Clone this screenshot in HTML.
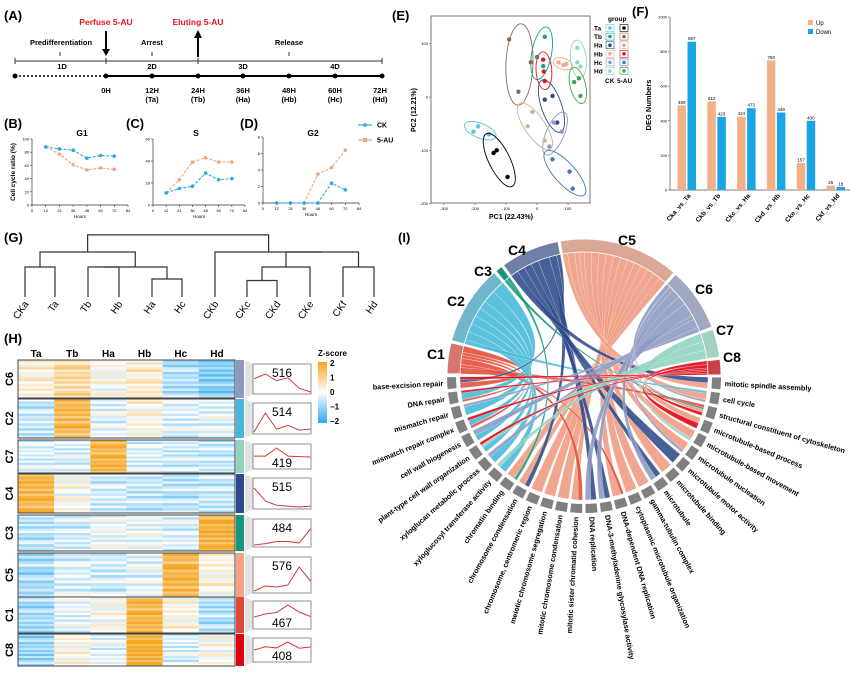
<!DOCTYPE html>
<html><head><meta charset="utf-8">
<style>
html,body{margin:0;padding:0;background:#fff;}
svg{display:block;font-family:"Liberation Sans",sans-serif;}
.b{font-weight:bold;}
</style></head>
<body>
<svg id="fig" width="863" height="688" viewBox="0 0 863 688" xmlns="http://www.w3.org/2000/svg">
<rect width="863" height="688" fill="#fff"/>
<!-- Panel A -->
<g id="panelA">
<text x="4" y="20" class="b" font-size="13">(A)</text>
<text x="106" y="25" class="b" font-size="8.5" fill="#e8141b" text-anchor="middle">Perfuse 5-AU</text>
<text x="198" y="25" class="b" font-size="8.5" fill="#e8141b" text-anchor="middle">Eluting 5-AU</text>
<line x1="106" y1="31" x2="106" y2="51" stroke="#000" stroke-width="2"/><polygon points="102,49 110,49 106,56" fill="#000"/>
<line x1="198" y1="37" x2="198" y2="57" stroke="#000" stroke-width="2"/><polygon points="194,38 202,38 198,30" fill="#000"/>
<text x="61" y="45" class="b" font-size="7.5" text-anchor="middle">Predifferentiation</text>
<text x="152" y="45" class="b" font-size="7.5" text-anchor="middle">Arrest</text>
<text x="289" y="45" class="b" font-size="7.5" text-anchor="middle">Release</text>
<g stroke="#333" stroke-width="1" fill="none">
<line x1="15" y1="61" x2="382" y2="61"/><line x1="15" y1="58" x2="15" y2="64"/><line x1="106" y1="58" x2="106" y2="64"/><line x1="198" y1="58" x2="198" y2="64"/><line x1="382" y1="58" x2="382" y2="64"/>
<line x1="60" y1="52" x2="60" y2="56"/><line x1="152" y1="52" x2="152" y2="56"/><line x1="289" y1="52" x2="289" y2="56"/>
</g>
<g class="b" font-size="7.5" text-anchor="middle">
<text x="62" y="69">1D</text><text x="152" y="69">2D</text><text x="243" y="69">3D</text><text x="335" y="69">4D</text>
</g>
<line x1="15" y1="76" x2="106" y2="76" stroke="#000" stroke-width="1.5" stroke-dasharray="2,2"/>
<line x1="106" y1="76" x2="382" y2="76" stroke="#000" stroke-width="2"/>
<g fill="#000"><circle cx="15" cy="76" r="2.5"/><circle cx="106" cy="76" r="2.5"/><circle cx="152" cy="76" r="2.5"/><circle cx="198" cy="76" r="2.5"/><circle cx="243" cy="76" r="2.5"/><circle cx="289" cy="76" r="2.5"/><circle cx="335" cy="76" r="2.5"/><circle cx="382" cy="76" r="2.5"/></g>
<g class="b" font-size="7.5" text-anchor="middle">
<text x="106" y="93">0H</text><text x="152" y="93">12H</text><text x="198" y="93">24H</text><text x="243" y="93">36H</text><text x="289" y="93">48H</text><text x="335" y="93">60H</text><text x="380" y="93">72H</text>
<text x="152" y="102">(Ta)</text><text x="198" y="102">(Tb)</text><text x="243" y="102">(Ha)</text><text x="289" y="102">(Hb)</text><text x="335" y="102">(Hc)</text><text x="380" y="102">(Hd)</text>
</g>
</g>
<g id="panelBCD"></g>
<g id="panelE"></g>
<g id="panelF"></g>
<g id="panelG"></g>
<g id="panelH"></g>
<g id="panelI"></g>
</svg>
<script>
// ---------- data ----------
const hours = [12,24,36,48,60,72];
const g1CK = [88,85,83,71,75,74];
const g1AU = [88,77,61,53,56,54];
const sCK = [11,15,17,29,23,24];
const sAU = [11,23,39,43,39,39];
const g2CK = [0,0,0,0,2.4,1.6];
const g2AU = [0,0,0,3.5,4.3,6.4];

const pcaGroups = ['Ta','Tb','Ha','Hb','Hc','Hd'];
const pcaCK = [[[-190,-55],[-205,-65],[-155,-70]],[[0,75],[25,113],[20,58]],[[25,-5],[50,2],[65,-48]],[[70,65],[95,62],[85,60]],[[55,-48],[80,-65],[40,-93]],[[130,92],[130,65],[140,57]]];
const pcaAU = [[[-140,-105],[-130,-100],[-95,-150]],[[-90,108],[-20,65],[-60,10]],[[-15,-28],[-30,-55],[25,-82]],[[20,70],[22,48],[25,30]],[[50,-117],[105,-140],[115,-172]],[[120,28],[135,35],[140,2]]];

const degCats = ['Cka_vs_Ta','Ckb_vs_Tb','Ckc_vs_Ha','Ckd_vs_Hb','Cke_vs_Hc','Ckf_vs_Hd'];
const degUp = [489,512,424,750,157,26];
const degDown = [857,423,473,448,400,18];
const degTicks = [0,200,400,600,800,1000];

const leaves = ['CKa','Ta','Tb','Hb','Ha','Hc','CKb','CKc','CKd','CKe','CKf','Hd'];
const merges = [[0,1,1.0],[4,5,0.6],[2,3,1.0],[14,13,1.0],[12,15,1.5],[7,8,0.55],[17,9,1.0],[10,11,1.0],[18,19,1.5],[6,20,1.5],[16,21,2.07]];

const hmCols = ['Ta','Tb','Ha','Hb','Hc','Hd'];
const clusters = ['C6','C2','C7','C4','C3','C5','C1','C8'];
const clusterCounts = [516,514,419,515,484,576,467,408];
const clusterMeans = [
 [0.3,0.8,0.1,0.4,-0.7,-1.1],
 [-0.5,1.5,-0.2,0.2,-0.3,-0.2],
 [-0.3,-0.3,1.6,-0.3,-0.4,-0.5],
 [1.6,0.1,-0.4,-0.5,-0.6,-0.5],
 [-0.6,-0.4,-0.1,-0.1,-0.3,1.7],
 [-0.8,-0.3,-0.4,-0.2,1.6,0.2],
 [-0.8,-0.2,0.1,1.6,0.2,-0.7],
 [-0.9,0.2,-0.2,1.8,-0.3,0.1]];
const stripeOffsets = [0.3,-0.4,0.1,0.5,-0.2,0.0,-0.5,0.2,0.4,-0.3,0.1,-0.1,0.3,-0.2,0.2,-0.4];

const chordClusters = ['C1','C2','C3','C4','C5','C6','C7','C8'];
const goTerms = ['base-excision repair','DNA repair','mismatch repair','mismatch repair complex','cell wall biogenesis','plant-type cell wall organization','xyloglucan metabolic process','xyloglucosyl transferase activity','chromatin binding','chromosome condensation','chromosome, centromeric region','meiotic chromosome segregation','mitotic chromosome condensation','mitotic sister chromatid cohesion','DNA replication','DNA-3-methyladenine glycosylase activity','DNA-dependent DNA replication','cytoplasmic microtubule organization','gamma-tubulin complex','microtubule','microtubule binding','microtubule motor activity','microtubule nucleation','microtubule-based movement','microtubule-based process','structural constituent of cytoskeleton','cell cycle','mitotic spindle assembly'];
const links = [[0,0,2],[0,1,1],[0,3,1],[0,13,2],[0,16,1],[0,25,2],
[1,1,3],[1,2,3],[1,3,2],[1,4,2],[1,5,2],[1,6,2],[1,7,2],[1,26,1],
[2,8,1],[2,25,1],
[3,0,1],[3,9,2],[3,14,3],[3,15,2],[3,19,2],[3,21,2],[3,27,2],
[4,8,3],[4,9,3],[4,10,3],[4,11,3],[4,12,3],[4,13,3],[4,16,3],[4,17,3],[4,18,3],[4,20,3],[4,22,3],[4,23,3],[4,24,2],[4,25,2],[4,26,3],[4,27,2],
[5,2,1],[5,4,2],[5,6,1],[5,14,3],[5,15,2],[5,19,2],[5,22,1],[5,26,1],
[6,5,1],[6,7,1],[6,23,1],
[7,0,1],[7,1,1],[7,3,1],[7,5,1],[7,24,2],[7,25,2]];

// ---------- helpers ----------
const NS='http://www.w3.org/2000/svg';
function mk(parent,tag,attrs,text){const e=document.createElementNS(NS,tag);for(const k in attrs)e.setAttribute(k,attrs[k]);if(text!==undefined)e.textContent=text;parent.appendChild(e);return e;}
const CKc='#29abe2', AUc='#f0a77f';

// ---------- B/C/D ----------
const bcd=document.getElementById('panelBCD');
const panels=[
 {lab:'(B)',title:'G1',ck:g1CK,au:g1AU,x0:32,x1:128,y0:205,y1:139,max:100,ticks:[0,20,40,60,80,100],lx:4,tx:82},
 {lab:'(C)',title:'S',ck:sCK,au:sAU,x0:153,x1:245,y0:205,y1:139,max:60,ticks:[0,20,40,60],lx:126,tx:196},
 {lab:'(D)',title:'G2',ck:g2CK,au:g2AU,x0:263,x1:359,y0:203,y1:137,max:8,ticks:[0,2,4,6,8],lx:240,tx:313}];
panels.forEach((p,pi)=>{
 const g=mk(bcd,'g',{});
 
 
 const xs=v=>p.x0+(v/84)*(p.x1-p.x0);
 const ys=v=>p.y0-(v/p.max)*(p.y0-p.y1);
 const lab=mk(g,'text',{x:p.lx,y:128,'class':'b','font-size':13},p.lab);
 
 
 const t=mk(g,'text',{x:p.tx,y:136,'class':'b','font-size':8.5,'text-anchor':'middle'},p.title);
 
 
 mk(g,'line',{x1:p.x0,y1:p.y0,x2:p.x1,y2:p.y0,stroke:'#333','stroke-width':0.7});
 mk(g,'line',{x1:p.x0,y1:p.y0,x2:p.x0,y2:p.y1,stroke:'#333','stroke-width':0.7});
 for(let h=0;h<=84;h+=12){mk(g,'line',{x1:xs(h),y1:p.y0,x2:xs(h),y2:p.y0+2,stroke:'#333','stroke-width':0.6});mk(g,'text',{x:xs(h),y:p.y0+7,'font-size':4,'text-anchor':'middle'},h);}
 p.ticks.forEach(v=>{mk(g,'line',{x1:p.x0-2,y1:ys(v),x2:p.x0,y2:ys(v),stroke:'#333','stroke-width':0.6});mk(g,'text',{x:p.x0-3,y:ys(v)+1.5,'font-size':4,'text-anchor':'end'},v);});
 mk(g,'text',{x:(p.x0+p.x1)/2,y:p.y0+13,'font-size':4.5,'text-anchor':'middle'},'Hours');
 [[p.au,AUc,'series-5au'],[p.ck,CKc,'series-ck']].forEach(s=>{
  const pts=hours.map((h,i)=>xs(h)+','+ys(s[0][i])).join(' ');
  const pl=mk(g,'polyline',{points:pts,fill:'none',stroke:s[1],'stroke-width':1.1,'stroke-dasharray':'3,1.5'});
  
  
  hours.forEach((h,i)=>{const c=mk(g,'circle',{cx:xs(h),cy:ys(s[0][i]),r:1.8,fill:s[1]});
   
   });
 });
});
mk(bcd,'text',{x:15,y:172,'font-size':6.5,'class':'b','text-anchor':'middle',transform:'rotate(-90 15 172)'},'Cell cycle ratio (%)');
const lg=mk(bcd,'g',{});


mk(lg,'line',{x1:358,y1:125,x2:372,y2:125,stroke:CKc,'stroke-width':1.2});mk(lg,'circle',{cx:365,cy:125,r:1.8,fill:CKc});
mk(lg,'text',{x:377,y:127.5,'font-size':7,'class':'b'},'CK');
mk(lg,'line',{x1:358,y1:140,x2:372,y2:140,stroke:AUc,'stroke-width':1.2});mk(lg,'rect',{x:363,y:138,width:4,height:4,fill:AUc});
mk(lg,'text',{x:377,y:142.5,'font-size':7,'class':'b'},'5-AU');

// ---------- E PCA ----------
const pe=document.getElementById('panelE');
const ckCols=['#5bc3e0','#15a088','#2e4a8a','#f2a882','#8c9ac0','#92d6c4'];
const auCols=['#000000','#8b6b52','#c9b4a0','#e4141e','#3f78c2','#3ca84a'];
const ex=v=>537+v*0.31, ey=v=>97-v*0.533;
mk(pe,'text',{x:392,y:20,'class':'b','font-size':13},'(E)');
const ebox=mk(pe,'rect',{x:431,y:16,width:159,height:187,fill:'none',stroke:'#555','stroke-width':0.8});


[-300,-200,-100,0,100].forEach(v=>{mk(pe,'line',{x1:ex(v),y1:203,x2:ex(v),y2:205,stroke:'#555','stroke-width':0.6});mk(pe,'text',{x:ex(v),y:210,'font-size':4,'text-anchor':'middle'},v);});
[-200,-100,0,100].forEach(v=>{mk(pe,'line',{x1:429,y1:ey(v),x2:431,y2:ey(v),stroke:'#555','stroke-width':0.6});mk(pe,'text',{x:428,y:ey(v)+1.5,'font-size':4,'text-anchor':'end'},v);});
mk(pe,'text',{x:511,y:219,'font-size':7,'class':'b','text-anchor':'middle'},'PC1 (22.43%)');
mk(pe,'text',{x:416,y:110,'font-size':7,'class':'b','text-anchor':'middle',transform:'rotate(-90 416 110)'},'PC2 (12.21%)');
function ellipse(pts,col){
 const px=pts.map(p=>ex(p[0])),py=pts.map(p=>ey(p[1]));
 const mx=px.reduce((a,b)=>a+b)/3,my=py.reduce((a,b)=>a+b)/3;
 let far=0,ang=0;pts.forEach((p,i)=>{const d=Math.hypot(px[i]-mx,py[i]-my);if(d>far){far=d;ang=Math.atan2(py[i]-my,px[i]-mx)*180/Math.PI;}});
 const e=mk(pe,'ellipse',{cx:mx,cy:my,rx:far*1.35+4,ry:far*0.35+4,fill:'none',stroke:col,'stroke-width':0.9,transform:`rotate(${ang} ${mx} ${my})`});
 
 
}
[[pcaCK,ckCols],[pcaAU,auCols]].forEach(set=>{
 set[0].forEach((grp,gi)=>{ellipse(grp,set[1][gi]);grp.forEach(p=>{const c=mk(pe,'circle',{cx:ex(p[0]),cy:ey(p[1]),r:2.2,fill:set[1][gi]});
  
  });});
});
mk(pe,'text',{x:608,y:21,'font-size':6.5,'class':'b'},'group');
pcaGroups.forEach((gname,i)=>{const y=28+i*8.6;
 mk(pe,'text',{x:594,y:y+2.5,'font-size':6.5,'class':'b'},gname);
 mk(pe,'rect',{x:606,y:y-3.5,width:8,height:7,fill:'#fff',stroke:ckCols[i],'stroke-width':0.6});mk(pe,'circle',{cx:610,cy:y,r:1.8,fill:ckCols[i]});
 mk(pe,'rect',{x:620,y:y-3.5,width:8,height:7,fill:'#fff',stroke:auCols[i],'stroke-width':0.6});mk(pe,'circle',{cx:624,cy:y,r:1.8,fill:auCols[i]});
});
mk(pe,'text',{x:605,y:83,'font-size':6.5,'class':'b'},'CK');
mk(pe,'text',{x:617,y:83,'font-size':6.5,'class':'b'},'5-AU');

// ---------- F bars ----------
const pf=document.getElementById('panelF');
const fy=v=>190-v*0.173, fx=i=>687+i*29.8;
mk(pf,'text',{x:632,y:16,'class':'b','font-size':13},'(F)');
mk(pf,'line',{x1:670,y1:17,x2:670,y2:190,stroke:'#555','stroke-width':0.7});
mk(pf,'line',{x1:670,y1:190,x2:850,y2:190,stroke:'#555','stroke-width':0.7});
degTicks.forEach(v=>{mk(pf,'line',{x1:668,y1:fy(v),x2:670,y2:fy(v),stroke:'#555','stroke-width':0.6});mk(pf,'text',{x:667,y:fy(v)+1.5,'font-size':4,'text-anchor':'end'},v);});
mk(pf,'text',{x:651,y:105,'font-size':7.5,'class':'b','text-anchor':'middle',transform:'rotate(-90 651 105)'},'DEG Numbers');
degCats.forEach((c,i)=>{
 const bu=mk(pf,'rect',{x:fx(i)-9.5,y:fy(degUp[i]),width:8.5,height:degUp[i]*0.173,fill:'#f3b188'});
 
 
 const bd=mk(pf,'rect',{x:fx(i)+0.5,y:fy(degDown[i]),width:8.5,height:degDown[i]*0.173,fill:'#1aa6e6'});
 
 
 mk(pf,'text',{x:fx(i)-5.2,y:fy(degUp[i])-1.5,'font-size':4.5,'text-anchor':'middle'},degUp[i]);
 mk(pf,'text',{x:fx(i)+4.7,y:fy(degDown[i])-1.5,'font-size':4.5,'text-anchor':'middle'},degDown[i]);
 mk(pf,'text',{x:fx(i)+4,y:196,'font-size':6.5,'class':'b','text-anchor':'end',transform:`rotate(-50 ${fx(i)+4} 196)`},c);
});
mk(pf,'rect',{x:808,y:20,width:5,height:5,fill:'#f3b188'});mk(pf,'text',{x:816,y:25,'font-size':6},'Up');
mk(pf,'rect',{x:808,y:29,width:5,height:5,fill:'#1aa6e6'});mk(pf,'text',{x:816,y:34,'font-size':6},'Down');

// ---------- G dendrogram ----------
const pg=document.getElementById('panelG');
mk(pg,'text',{x:4,y:242,'class':'b','font-size':13},'(G)');
const leafX=[25,55,88,119,152,182,215,247,277,310,343,374];
const gy=h=>297-30*h;
const nodes=leaves.map((l,i)=>({x:leafX[i],h:0}));
merges.forEach(m=>{
 const a=nodes[m[0]],b=nodes[m[1]];
 const p=mk(pg,'path',{d:`M${a.x},${gy(a.h)}V${gy(m[2])}H${b.x}V${gy(b.h)}`,fill:'none',stroke:'#333','stroke-width':1.2});
 
 
 nodes.push({x:(a.x+b.x)/2,h:m[2]});
});
leaves.forEach((l,i)=>{const t=mk(pg,'text',{x:leafX[i]+4,y:304,'font-size':10,'text-anchor':'end',transform:`rotate(-55 ${leafX[i]+4} 304)`},l);
 
 });

// ---------- H heatmap ----------
const ph=document.getElementById('panelH');
mk(ph,'text',{x:4,y:343,'class':'b','font-size':13},'(H)');
const hx0=18,hx1=235,cw=(hx1-hx0)/6;
hmCols.forEach((c,i)=>mk(ph,'text',{x:hx0+cw*(i+0.5),y:357,'font-size':10,'class':'b','text-anchor':'middle'},c));
const blocks=[[360,398],[399,438],[440,473],[474,513],[515,551],[553,597],[597,633],[634,666]];
const clCols=['#8c9ac0','#45b8d8','#8fd3c0','#2e4a8a','#13977a','#f2a38a','#e0493a','#e00010'];
function zcol(z){z=Math.max(-2,Math.min(2,z));
 if(z>=0){const t=z/2;return `rgb(${255-t*10|0},${255-t*89|0},${255-t*220|0})`;}
 const t=-z/2;return `rgb(${255-t*214|0},${255-t*87|0},${255-t*15|0})`;}
clusters.forEach((cl,ci)=>{
 const [y0,y1]=blocks[ci];const n=16;const sh=(y1-y0)/n;
 const g=mk(ph,'g',{});
 
 
 for(let c=0;c<6;c++)for(let r=0;r<n;r++){
  const z=clusterMeans[ci][c]+stripeOffsets[(r+c*5+ci*3)%stripeOffsets.length]*1.1;
  mk(g,'rect',{x:hx0+c*cw,y:y0+r*sh,width:cw+0.3,height:sh+0.3,fill:zcol(z)});
 }
 mk(g,'rect',{x:hx0,y:y0,width:hx1-hx0,height:y1-y0,fill:'none',stroke:'#444','stroke-width':1});
 mk(ph,'text',{x:13,y:(y0+y1)/2,'font-size':11,'class':'b','text-anchor':'middle',transform:`rotate(-90 13 ${(y0+y1)/2})`},cl);
 const cb=mk(ph,'rect',{x:236,y:y0,width:8,height:y1-y0,fill:clCols[ci]});
 
 
 mk(ph,'polygon',{points:`245,${y0} 253,${y0+4} 253,${y1-4} 245,${y1}`,fill:'#e3e3e3'});
 mk(ph,'rect',{x:253,y:y0+4,width:58,height:y1-y0-8,fill:'#fff',stroke:'#777','stroke-width':0.8});
 const m=clusterMeans[ci];const mn=Math.min(...m),mx=Math.max(...m);
 const top=['C7','C1','C8'].includes(cl);
 const ly0=top?y0+8:y0+14, ly1=top?y1-16:y1-6;
 const pts=m.map((v,i)=>(254+i*11.3)+','+(ly1-(v-mn)/(mx-mn)*(ly1-ly0))).join(' ');
 const pl=mk(ph,'polyline',{points:pts,fill:'none',stroke:'#d23a3a','stroke-width':1});
 
 
 mk(ph,'text',{x:282,y:top?y1-6:y0+17,'font-size':12,'text-anchor':'middle'},clusterCounts[ci]);
});
const grad=mk(ph,'defs',{});
const lgr=mk(grad,'linearGradient',{id:'zg',x1:0,y1:0,x2:0,y2:1});
mk(lgr,'stop',{offset:'0','stop-color':'#f5a623'});mk(lgr,'stop',{offset:'0.5','stop-color':'#ffffff'});mk(lgr,'stop',{offset:'1','stop-color':'#29a8f0'});
mk(ph,'text',{x:318,y:356,'font-size':8,'class':'b'},'Z-score');
const zb=mk(ph,'rect',{x:318,y:362,width:9,height:61,fill:'url(#zg)'});


[2,1,0,-1,-2].forEach((v,i)=>mk(ph,'text',{x:330,y:366+i*14.5,'font-size':8,'class':'b'},v===0?'0':(v<0?'\u2212'+(-v):v)));

// ---------- I chord ----------
const pi_=document.getElementById('panelI');
mk(pi_,'text',{x:398,y:242,'class':'b','font-size':13},'(I)');
const cx=584,cy=376,R=124;
const chordCols=['#e34b37','#45b8d8','#13977a','#2e4a8a','#ef9a80','#8c9ac0','#8fd3c0','#e00010'];
const ringCols=['#d8756c','#72b6cc','#13977a','#6f7fa5','#dba898','#a0a8c2','#a3d2c4','#cc4048'];
const clRange=[[181,194],[195,229],[230,233],[234,259],[260,311],[312,339],[340,352],[353,359.5]];
const rad=d=>d*Math.PI/180;
const P=(a,r)=>[cx+r*Math.cos(rad(a)),cy+r*Math.sin(rad(a))];
const termAng=i=>177-i*6.44;
// allocate
const clW=chordClusters.map((c,i)=>links.filter(l=>l[0]===i).reduce((s,l)=>s+l[2],0));
const tW=goTerms.map((t,i)=>links.filter(l=>l[1]===i).reduce((s,l)=>s+l[2],0));
const clPos=clRange.map(r=>r[0]), tPos=goTerms.map((t,i)=>termAng(i)-2.6);
const sorted=links.map((l,i)=>i).sort((a,b)=>links[b][1]-links[a][1]);
const ribbons=[];
sorted.forEach(k=>{const l=links[k];const [c,t,w]=l;
 const span=clRange[c][1]-clRange[c][0];const da=span*w/clW[c];
 const a1=clPos[c],a2=a1+da;clPos[c]=a2;ribbons[k]={a1,a2};});
links.forEach((l,k)=>{const [c,t,w]=l;const db=5.2*w/tW[t];const b1=tPos[t],b2=b1+db;tPos[t]=b2;ribbons[k].b1=b1;ribbons[k].b2=b2;});
const order=links.map((l,i)=>i).sort((a,b)=>(links[a][0]===4?0:1)-(links[b][0]===4?0:1));
order.forEach(k=>{const r=ribbons[k];const c=links[k][0];
 const A1=P(r.a1,R),A2=P(r.a2,R),B1=P(r.b1,R),B2=P(r.b2,R);
 const d=`M${A1}A${R},${R} 0 0 1 ${A2}Q${cx},${cy} ${B1}A${R},${R} 0 0 1 ${B2}Q${cx},${cy} ${A1}Z`;
 const p=mk(pi_,'path',{d:d,fill:chordCols[c],'fill-opacity':0.88,stroke:'#fff','stroke-width':0.4,'stroke-opacity':0.6});
 
 
});
function arcBand(a1,a2,r1,r2){const p1=P(a1,r2),p2=P(a2,r2),p3=P(a2,r1),p4=P(a1,r1);const lg=(a2-a1)>180?1:0;
 return `M${p1}A${r2},${r2} 0 ${lg} 1 ${p2}L${p3}A${r1},${r1} 0 ${lg} 0 ${p4}Z`;}
clRange.forEach((r,i)=>{
 const a=mk(pi_,'path',{d:arcBand(r[0],r[1],R,137),fill:ringCols[i],stroke:'#fff','stroke-width':0.8});
 
 
});
const clLabPos=[[436,359],[456,306],[483,276],[517,255],[627,245],[704,294],[725,335],[732,362]];
chordClusters.forEach((c,i)=>mk(pi_,'text',{x:clLabPos[i][0],y:clLabPos[i][1],'font-size':14,'class':'b','text-anchor':'middle'},c));
goTerms.forEach((t,i)=>{const a=termAng(i);
 const b=mk(pi_,'path',{d:arcBand(a-2.5,a+2.5,128,137),fill:'#808080'});
 
 
 const [x,y]=P(a,141);
 let rot,anchor;
 if(a>90){rot=a-180;anchor='end';}else{rot=a;anchor='start';}
 const tx=mk(pi_,'text',{x:x,y:y+2.5,'font-size':7.3,'class':'b','text-anchor':anchor,transform:`rotate(${rot} ${x} ${y})`},t);
 
 
});
</script>
</body></html>
